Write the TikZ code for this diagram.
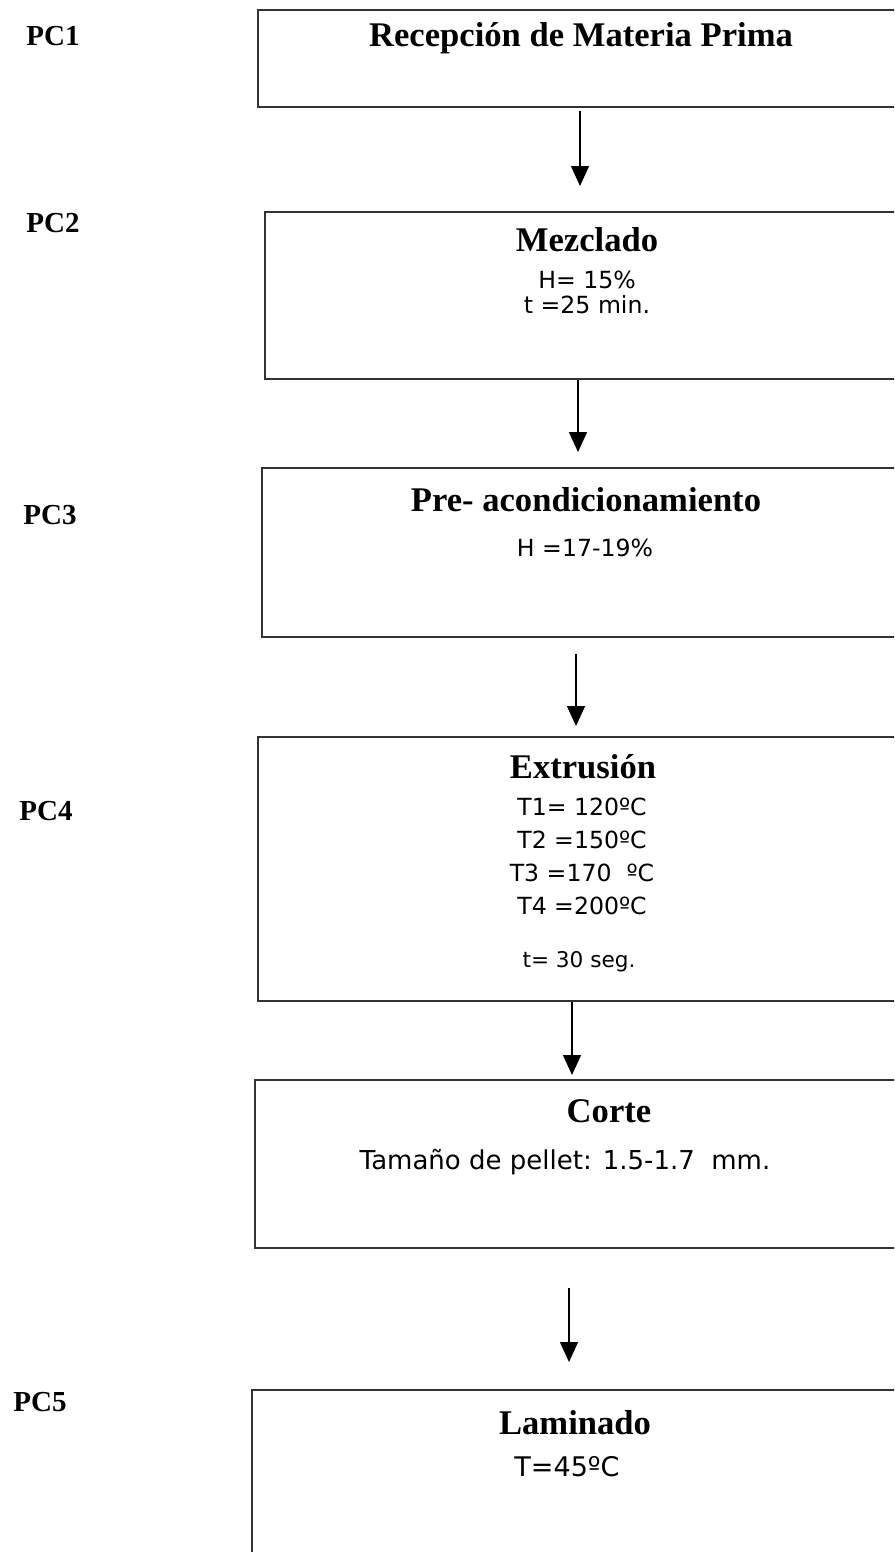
\documentclass[tikz,border=0pt]{standalone}
\usepackage{fontspec}
\setmainfont{Liberation Serif}
\newfontfamily\datos{DejaVu Sans}
\usetikzlibrary{positioning, fit, calc, arrows.meta}

\begin{document}
\begin{tikzpicture}[x=0.5pt, y=-0.5pt, >={Triangle[length=10pt,width=9pt]},
    caja/.style={draw=black!80, line width=1pt, inner sep=0pt, fit={#1}},
    titulo/.style={font=\bfseries\fontsize{17.3}{20}\selectfont},
    pc/.style={font=\bfseries\fontsize{14.5}{17}\selectfont},
    dato/.style={font=\datos\fontsize{#1}{12.5}\selectfont, align=center},
    dato/.default=11.8,
    flecha/.style={->, line width=0.7pt}]
        \useasboundingbox (0,0) rectangle (894,1552);
        \clip (0,0) rectangle (894,1552);

        % Puntos de control
        \node[pc] (pc1) at (53,36) {PC1};
        \node[pc] (pc2) at (53,223) {PC2};
        \node[pc] (pc3) at (50,515) {PC3};
        \node[pc] (pc4) at (46,811) {PC4};
        \node[pc] (pc5) at (40,1402) {PC5};

        % Cajas del proceso
        \node[caja={(258,10) (930,107)}] (b1) {};
        \node[caja={(265,212) (930,379)}] (b2) {};
        \node[caja={(262,468) (930,637)}] (b3) {};
        \node[caja={(258,737) (930,1001)}] (b4) {};
        \node[caja={(255,1080) (930,1248)}] (b5) {};
        \node[caja={(252,1390) (930,1620)}] (b6) {};

        % Textos
        \node[titulo] (t1) at (581,38) {Recepción de Materia Prima};
        \node[titulo] (t2) at (587,240) {Mezclado};
        \node[dato] (d2) at (587,292.5) {H= 15\%\\t =25 min.};
        \node[titulo] (t3) at (586,500) {Pre- acondicionamiento};
        \node[dato] (d3) at (585,548) {H =17-19\%};
        \node[titulo] (t4) at (583,767) {Extrusión};
        \node[dato, font=\datos\fontsize{11.8}{16.5}\selectfont] (d4) at (582,856.5)
            {T1= 120ºC\\T2 =150ºC\\T3 =170~~ºC\\T4 =200ºC};
        \node[dato=10.8] (e4) at (579,962) {t= 30 seg.};
        \node[titulo] (t5) at (609,1111) {Corte};
        \node[dato=13] (d5) at (565,1162) {Tamaño de pellet: 1.5-1.7~~mm.};
        \node[titulo] (t6) at (575,1423) {Laminado};
        \node[dato=13.5] (d6) at (567,1467) {T=45ºC};

        % Flechas
        \coordinate (x1) at (580,0);
        \coordinate (x2) at (578,0);
        \coordinate (x3) at (576,0);
        \coordinate (x4) at (572,0);
        \coordinate (x5) at (569,0);
        \draw[flecha, shorten <=1.5pt, shorten >=12.5pt] (b1.south -| x1) -- (b2.north -| x1);
        \draw[flecha, shorten >=7.5pt] (b2.south -| x2) -- (b3.north -| x2);
        \draw[flecha, shorten <=8pt, shorten >=5pt] (b3.south -| x3) -- (b4.north -| x3);
        \draw[flecha, shorten >=2pt] (b4.south -| x4) -- (b5.north -| x4);
        \draw[flecha, shorten <=19.5pt, shorten >=13.5pt] (b5.south -| x5) -- (b6.north -| x5);
\end{tikzpicture}
\end{document}
